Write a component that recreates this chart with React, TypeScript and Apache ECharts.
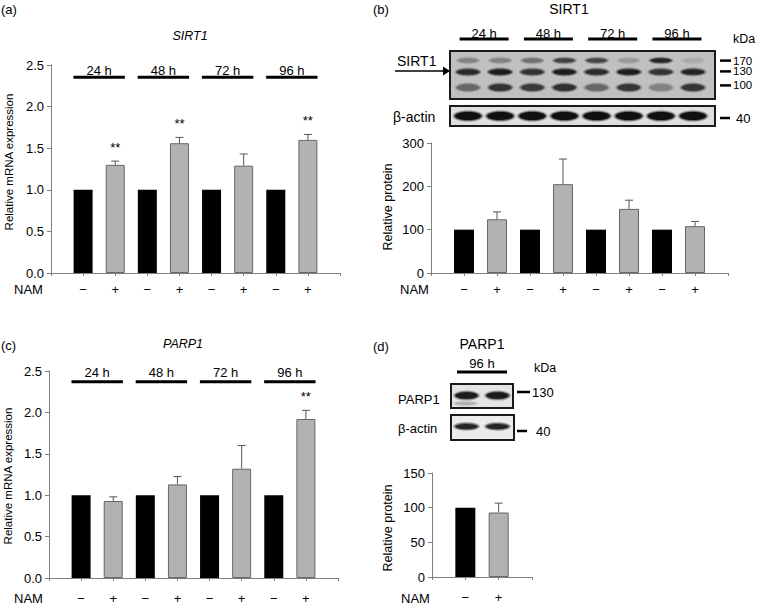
import React, { useEffect, useRef } from 'react';
import * as echarts from 'echarts';

// ---------- data ----------
const timeGroups = ['24 h', '48 h', '72 h', '96 h'];
const namSigns = ['−', '+'];

const sirt1MrnaCtrl = [1, 1, 1, 1];
const sirt1MrnaNam = [1.3, 1.56, 1.29, 1.6];
const sirt1MrnaNamErr = [0.045, 0.07, 0.14, 0.065];
const sirt1MrnaStars = ['**', '**', '', '**'];

const sirt1ProtCtrl = [100, 100, 100, 100];
const sirt1ProtNam = [124, 205, 148, 108];
const sirt1ProtNamErr = [17, 58, 20, 11];

const parp1MrnaCtrl = [1, 1, 1, 1];
const parp1MrnaNam = [0.93, 1.13, 1.32, 1.92];
const parp1MrnaNamErr = [0.05, 0.095, 0.28, 0.105];
const parp1MrnaStars = ['', '', '', '**'];

const parp1ProtGroups = ['96 h'];
const parp1ProtCtrl = [100];
const parp1ProtNam = [93];
const parp1ProtNamErr = [13.5];

const sirt1Markers = ['170', '130', '100'];
const actinMarker = '40';
const parp1Marker = '130';

// blot band intensities (0 = none, 1 = darkest), one per lane
const sirt1Blot170 = [0.35, 0.35, 0.45, 0.72, 0.7, 0.22, 0.88, 0.12];
const sirt1Blot130 = [0.85, 0.92, 0.8, 0.92, 0.85, 0.92, 0.8, 0.88];
const sirt1Blot100 = [0.5, 0.8, 0.75, 0.82, 0.5, 0.78, 0.35, 0.78];
const sirt1BlotActin = [1, 1, 1, 1, 1, 1, 1, 1];
const parp1BlotMain = [0.95, 0.95];
const parp1BlotActin = [0.9, 0.9];

// ---------- style ----------
const FONT = 'Liberation Sans, Arial, Helvetica, sans-serif';
const BLACK = '#000000';
const GRAY = '#b2b2b2';
const GRAY_BORDER = '#666666';
const AXIS = '#808080';

function categories(nGroups: number) {
  const c: string[] = [''];
  for (let i = 0; i < nGroups; i++) c.push(namSigns[0], namSigns[1]);
  c.push('');
  return c;
}

function barData(ctrl: number[], nam: number[]) {
  const d: any[] = ['-'];
  ctrl.forEach((v, i) => {
    d.push({ value: v, itemStyle: { color: BLACK } });
    d.push({ value: nam[i], itemStyle: { color: GRAY, borderColor: GRAY_BORDER, borderWidth: 1 } });
  });
  d.push('-');
  return d;
}

function errorSeries(idx: number, nam: number[], err: number[], stars: string[] | null, starGap: number) {
  return {
    type: 'custom',
    xAxisIndex: idx,
    yAxisIndex: idx,
    z: 5,
    data: nam.map((v, i) => [2 * i + 2, v, err[i]]),
    renderItem: (params: any, api: any) => {
      const x = api.value(0);
      const v = api.value(1);
      const e = api.value(2);
      const b = api.coord([x, v]);
      const t = api.coord([x, v + e]);
      const children: any[] = [
        { type: 'line', shape: { x1: b[0], y1: b[1], x2: t[0], y2: t[1] }, style: { stroke: '#555', lineWidth: 1 } },
        { type: 'line', shape: { x1: t[0] - 4, y1: t[1], x2: t[0] + 4, y2: t[1] }, style: { stroke: '#555', lineWidth: 1 } },
      ];
      const s = stars ? stars[params.dataIndex] : '';
      if (s) {
        children.push({
          type: 'text',
          style: { text: s, x: t[0], y: t[1] - starGap, align: 'center', verticalAlign: 'middle', font: `13px ${FONT}`, fill: '#000' },
        });
      }
      return { type: 'group', children };
    },
  };
}

function groupSeries(idx: number, groups: string[], bw: number, lineOff: number, textOff: number) {
  return {
    type: 'custom',
    xAxisIndex: idx,
    yAxisIndex: idx,
    z: 5,
    data: groups.map((_, i) => [2 * i + 1, 0]),
    renderItem: (params: any, api: any) => {
      const i = params.dataIndex;
      const a = api.coord([2 * i + 1, 0]);
      const b = api.coord([2 * i + 2, 0]);
      const y0 = params.coordSys.y;
      const x1 = a[0] - bw / 2;
      const x2 = b[0] + bw / 2;
      return {
        type: 'group',
        children: [
          { type: 'line', shape: { x1, y1: y0 + lineOff, x2, y2: y0 + lineOff }, style: { stroke: '#000', lineWidth: 3 } },
          {
            type: 'text',
            style: { text: groups[i], x: (x1 + x2) / 2, y: y0 + textOff, align: 'center', verticalAlign: 'middle', font: `13px ${FONT}`, fill: '#000' },
          },
        ],
      };
    },
  };
}

function xAxis(idx: number, n: number, margin: number) {
  return {
    type: 'category',
    gridIndex: idx,
    data: categories(n),
    boundaryGap: false,
    axisLine: { lineStyle: { color: AXIS, width: 1 } },
    axisTick: { show: true, length: 3, lineStyle: { color: AXIS }, interval: 0 },
    axisLabel: { interval: 0, margin, fontSize: 13, color: '#000', fontFamily: FONT },
    splitLine: { show: false },
  };
}

function yAxis(idx: number, max: number, interval: number, dec: number) {
  return {
    type: 'value',
    gridIndex: idx,
    min: 0,
    max,
    interval,
    axisLine: { show: true, lineStyle: { color: AXIS, width: 1 } },
    axisTick: { show: true, length: 4, lineStyle: { color: AXIS } },
    axisLabel: { margin: 7, fontSize: 13, color: '#000', fontFamily: FONT, formatter: (v: number) => v.toFixed(dec) },
    splitLine: { show: false },
  };
}

function txt(text: string, x: number, y: number, size: number, opts: any = {}) {
  return {
    type: 'text',
    x,
    y,
    rotation: opts.rotation || 0,
    style: {
      text,
      x: 0,
      y: 0,
      align: opts.align || 'center',
      verticalAlign: 'middle',
      font: `${opts.italic ? 'italic ' : ''}${size}px ${FONT}`,
      fill: '#000',
    },
    z: 10,
  };
}

function hline(x1: number, x2: number, y: number, w: number) {
  return { type: 'line', shape: { x1, y1: y, x2, y2: y }, style: { stroke: '#000', lineWidth: w }, z: 10 };
}

function bandEls(cx: number, cy: number, rx: number, ry: number, k: number, bg: number) {
  if (k <= 0) return [];
  const g = Math.round(bg - k * (bg - 12));
  const c = `rgb(${g},${g},${g})`;
  return [
    { type: 'ellipse', shape: { cx, cy, rx: rx + 2.5, ry: ry + 1.8 }, style: { fill: c, opacity: 0.3 }, z: 8 },
    { type: 'ellipse', shape: { cx, cy, rx: rx + 1, ry: ry + 0.8 }, style: { fill: c, opacity: 0.45 }, z: 8 },
    { type: 'ellipse', shape: { cx, cy, rx, ry }, style: { fill: c, opacity: 0.95 }, z: 8 },
  ];
}

function blotBox(x: number, y: number, w: number, h: number, bg: number) {
  return {
    type: 'rect',
    shape: { x, y, width: w, height: h },
    style: { fill: `rgb(${bg},${bg},${bg})`, stroke: 'none' },
    z: 7,
  };
}
function blotBorder(x: number, y: number, w: number, h: number) {
  return {
    type: 'rect',
    shape: { x, y, width: w, height: h },
    style: { fill: 'none', stroke: '#1a1a1a', lineWidth: 2 },
    z: 9,
  };
}

function buildGraphics() {
  const g: any[] = [];
  // panel labels & titles
  g.push(txt('(a)', 1, 9, 13, { align: 'left' }));
  g.push(txt('SIRT1', 190, 36, 12.5, { italic: true }));
  g.push(txt('(b)', 373, 9, 13, { align: 'left' }));
  g.push(txt('SIRT1', 569, 9, 14));
  g.push(txt('(c)', 1, 345, 13, { align: 'left' }));
  g.push(txt('PARP1', 183, 344, 12.5, { italic: true }));
  g.push(txt('(d)', 373, 346, 13, { align: 'left' }));
  g.push(txt('PARP1', 482, 344, 14));

  // y axis names
  g.push(txt('Relative mRNA expression', 8.5, 162, 11.5, { rotation: Math.PI / 2 }));
  g.push(txt('Relative protein', 388, 207, 12.5, { rotation: Math.PI / 2 }));
  g.push(txt('Relative mRNA expression', 8, 476, 11.5, { rotation: Math.PI / 2 }));
  g.push(txt('Relative protein', 388, 528, 12.5, { rotation: Math.PI / 2 }));

  // NAM labels
  g.push(txt('NAM', 14, 289, 13, { align: 'left' }));
  g.push(txt('NAM', 400, 289, 13, { align: 'left' }));
  g.push(txt('NAM', 14, 598, 13, { align: 'left' }));
  g.push(txt('NAM', 401, 598, 13, { align: 'left' }));

  // ----- (b) blot -----
  const laneX0 = 468;
  const laneStep = 32.15;
  const laneX = sirt1Blot130.map((_, i) => laneX0 + i * laneStep);
  timeGroups.forEach((t, i) => {
    const cx = (laneX[2 * i] + laneX[2 * i + 1]) / 2;
    g.push(hline(cx - 24.5, cx + 24.5, 39, 3));
    g.push(txt(t, cx, 33, 13));
  });
  g.push(txt('kDa', 744, 39, 12.5));
  const bx = 450, bw = 265;
  const sbg = 192;
  g.push(blotBox(bx, 51, bw, 48, sbg));
  laneX.forEach((x, i) => {
    g.push(...bandEls(x, 60.5, 10, 2, sirt1Blot170[i], sbg));
    g.push(...bandEls(x, 72, 11, 2.6, sirt1Blot130[i], sbg));
    g.push(...bandEls(x, 87.5, 11, 3.2, sirt1Blot100[i], sbg));
  });
  g.push(blotBorder(bx, 51, bw, 48));
  const abg = 222;
  g.push(blotBox(bx, 106, bw, 20, abg));
  laneX.forEach((x, i) => {
    g.push(...bandEls(x, 116, 13, 4, sirt1BlotActin[i], abg));
  });
  g.push(blotBorder(bx, 106, bw, 20));
  const markY = [60.6, 71.4, 85.4];
  sirt1Markers.forEach((m, i) => {
    g.push(hline(720, 731, markY[i], 2.5));
    g.push(txt(m, 733, markY[i], 11.5, { align: 'left' }));
  });
  g.push(hline(720, 730, 118, 2.5));
  g.push(txt(actinMarker, 736, 118, 13, { align: 'left' }));
  g.push(txt('SIRT1', 397, 61, 14, { align: 'left' }));
  g.push({ type: 'line', shape: { x1: 395, y1: 71, x2: 444, y2: 71 }, style: { stroke: '#000', lineWidth: 1.5 }, z: 10 });
  g.push({ type: 'polygon', shape: { points: [[443, 66.5], [450, 71], [443, 75.5]] }, style: { fill: '#000' }, z: 10 });
  g.push(txt('β-actin', 393, 117, 14, { align: 'left' }));

  // ----- (d) blot -----
  const dLane = [466.5, 497.5];
  parp1ProtGroups.forEach((t) => {
    const cx = (dLane[0] + dLane[1]) / 2;
    g.push(hline(cx - 25, cx + 25, 372, 3));
    g.push(txt(t, cx, 363, 13));
  });
  g.push(txt('kDa', 545, 368, 12.5));
  const pbg = 228;
  g.push(blotBox(451, 384, 62, 24, pbg));
  dLane.forEach((x, i) => {
    g.push(...bandEls(x, 395.5, 11, 3.3, parp1BlotMain[i], pbg));
  });
  g.push(...bandEls(dLane[0] - 1, 403.5, 10, 1.2, 0.25, pbg));
  g.push(blotBorder(451, 384, 62, 24));
  const dabg = 236;
  g.push(blotBox(451, 415, 63, 25, dabg));
  dLane.forEach((x, i) => {
    g.push(...bandEls(x, 426.5, 11, 2.6, parp1BlotActin[i], dabg));
  });
  g.push(blotBorder(451, 415, 63, 25));
  g.push(hline(517, 530, 392, 2.5));
  g.push(txt(parp1Marker, 532, 392, 13, { align: 'left' }));
  g.push(hline(517, 527, 431, 2.5));
  g.push(txt(actinMarker, 536, 431, 13, { align: 'left' }));
  g.push(txt('PARP1', 398, 399, 13, { align: 'left' }));
  g.push(txt('β-actin', 398, 428, 13, { align: 'left' }));
  return g;
}

export default function App() {
  const ref = useRef<HTMLDivElement>(null);
  useEffect(() => {
    if (!ref.current) return;
    const chart = echarts.init(ref.current, null, { renderer: 'svg' });
    const option: any = {
      animation: false,
      backgroundColor: '#ffffff',
      textStyle: { fontFamily: FONT },
      grid: [
        { left: 51, top: 65, width: 289, height: 208 },
        { left: 431, top: 143, width: 297, height: 130 },
        { left: 49, top: 371, width: 289, height: 207 },
        { left: 432, top: 473, width: 100, height: 104 },
      ],
      xAxis: [xAxis(0, 4, 9.5), xAxis(1, 4, 10), xAxis(2, 4, 13.5), xAxis(3, 1, 14)],
      yAxis: [yAxis(0, 2.5, 0.5, 1), yAxis(1, 300, 100, 0), yAxis(2, 2.5, 0.5, 1), yAxis(3, 150, 50, 0)],
      series: [
        { type: 'bar', xAxisIndex: 0, yAxisIndex: 0, barWidth: 19, data: barData(sirt1MrnaCtrl, sirt1MrnaNam) },
        errorSeries(0, sirt1MrnaNam, sirt1MrnaNamErr, sirt1MrnaStars, 14),
        groupSeries(0, timeGroups, 19.3, 12.3, 5),
        { type: 'bar', xAxisIndex: 1, yAxisIndex: 1, barWidth: 20, data: barData(sirt1ProtCtrl, sirt1ProtNam) },
        errorSeries(1, sirt1ProtNam, sirt1ProtNamErr, null, 0),
        { type: 'bar', xAxisIndex: 2, yAxisIndex: 2, barWidth: 19, data: barData(parp1MrnaCtrl, parp1MrnaNam) },
        errorSeries(2, parp1MrnaNam, parp1MrnaNamErr, parp1MrnaStars, 14),
        groupSeries(2, timeGroups, 19.3, 10.7, 1.7),
        { type: 'bar', xAxisIndex: 3, yAxisIndex: 3, barWidth: 20, data: barData(parp1ProtCtrl, parp1ProtNam) },
        errorSeries(3, parp1ProtNam, parp1ProtNamErr, null, 0),
      ],
      graphic: buildGraphics(),
    };
    chart.setOption(option);
    return () => chart.dispose();
  }, []);
  return (
    <div style={{ position: 'absolute', left: 0, top: 0, width: 758, height: 606, background: '#fff' }}>
      <div ref={ref} style={{ width: 758, height: 606 }} />
    </div>
  );
}
